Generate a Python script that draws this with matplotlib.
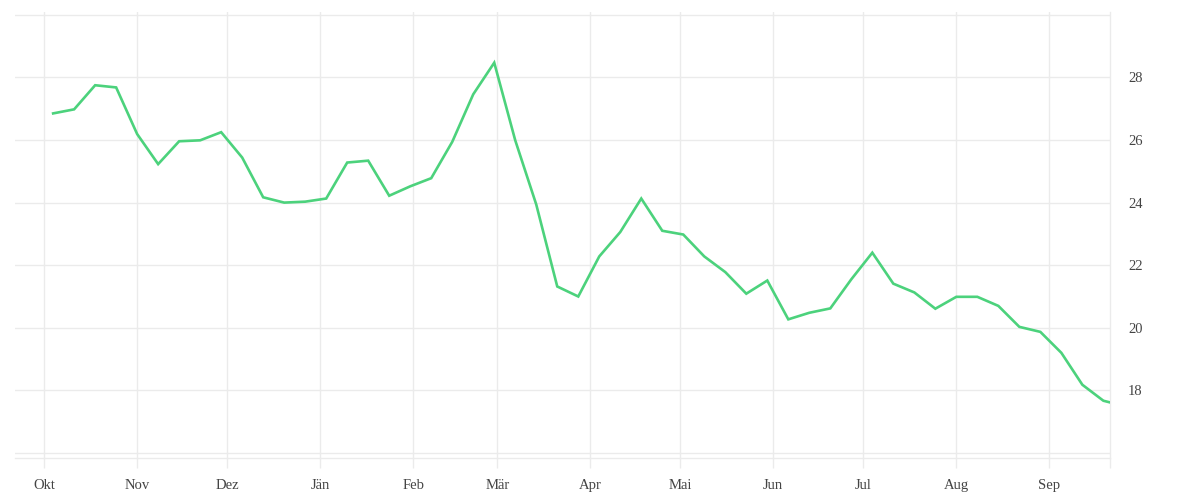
import numpy as np
import pandas as pd
import matplotlib
matplotlib.use('Agg')
import matplotlib.pyplot as plt
import matplotlib.dates as mdates
from matplotlib.ticker import FixedLocator, FuncFormatter

# weekly values
dates = pd.date_range('2020-10-04', periods=52, freq='7D')
values = [26.85, 26.98, 27.75, 27.68, 26.19, 25.23, 25.96, 25.99, 26.25, 25.44,
          24.17, 24.00, 24.03, 24.13, 25.28, 25.34, 24.22, 24.52, 24.78, 25.94,
          27.46, 28.47, 25.99, 23.94, 21.32, 21.00, 22.28, 23.06, 24.13, 23.10,
          22.98, 22.28, 21.78, 21.09, 21.51, 20.27, 20.48, 20.62, 21.55, 22.40,
          21.41, 21.13, 20.61, 20.99, 20.99, 20.70, 20.03, 19.87, 19.20, 18.18,
          17.67, 17.50]
month_labels = ['Okt', 'Nov', 'Dez', 'Jän', 'Feb', 'Mär', 'Apr', 'Mai', 'Jun', 'Jul', 'Aug', 'Sep']
month_ticks = pd.date_range('2020-10-01', periods=12, freq='MS')
y_ticks = [16, 18, 20, 22, 24, 26, 28, 30]

grid_col = '#ebebeb'
txt_col = '#444444'

fig = plt.figure(figsize=(12, 5), dpi=100)
ax = fig.add_axes([15/1200, 1-458/500, 1095/1200, 446/500])

ax.plot(dates, values, color='#4cd27c', lw=1.9, solid_joinstyle='miter', zorder=3)

ax.set_xlim(pd.Timestamp('2020-09-21 07:00'), pd.Timestamp('2021-09-21 05:00'))
ax.set_ylim(15.84, 30.09)

ax.xaxis.set_major_locator(FixedLocator(mdates.date2num(month_ticks)))
ax.set_xticklabels(month_labels)
ax.yaxis.set_major_locator(FixedLocator(y_ticks))
ax.yaxis.set_major_formatter(FuncFormatter(lambda v, p: '' if v in (16, 30) else '%d' % v))
ax.yaxis.tick_right()

ax.grid(True, color=grid_col, lw=1)
ax.set_axisbelow(True)
for s in ['left', 'top']:
    ax.spines[s].set_visible(False)
for s in ['bottom', 'right']:
    ax.spines[s].set_color(grid_col)
    ax.spines[s].set_linewidth(1)

ax.tick_params(axis='x', length=7.2, width=1, color=grid_col, pad=8,
               labelsize=10.5, labelcolor=txt_col)
ax.tick_params(axis='y', length=0, pad=13, labelsize=10.5, labelcolor=txt_col)
for lab in ax.get_xticklabels() + ax.get_yticklabels():
    lab.set_family('Liberation Serif')

# tick mark under the right edge
ax.xaxis.set_minor_locator(FixedLocator([ax.get_xlim()[1]]))
ax.tick_params(axis='x', which='minor', length=7.2, width=1, color=grid_col)

fig.savefig('out.png', dpi=100, facecolor='white')
